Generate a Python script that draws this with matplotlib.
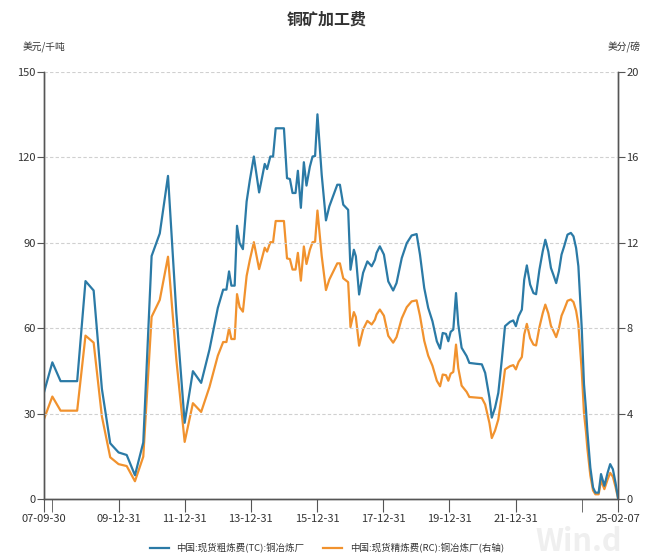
import matplotlib
matplotlib.use('Agg')
import matplotlib.pyplot as plt
import numpy as np
import pandas as pd

plt.rcParams['font.family'] = ['Noto Sans CJK SC', 'DejaVu Sans']

# 数据
dates = ['2007-09-30', '2007-12-31', '2008-03-31', '2008-09-30', '2008-12-31', '2009-03-31',
         '2009-06-30', '2009-09-30', '2009-12-31', '2010-03-31', '2010-06-30', '2010-09-30',
         '2010-12-31', '2011-03-31', '2011-06-30', '2011-09-30', '2011-12-31', '2012-03-31',
         '2012-06-30', '2012-09-30', '2012-12-31', '2013-02-28', '2013-04-05', '2013-05-04',
         '2013-05-30', '2013-07-05', '2013-07-31', '2013-08-29', '2013-10-04', '2013-11-14',
         '2013-12-20', '2014-02-02', '2014-04-01', '2014-06-02', '2014-06-28', '2014-08-03',
         '2014-09-02', '2014-10-01', '2014-12-31', '2015-02-03', '2015-03-07', '2015-04-05',
         '2015-05-08', '2015-06-03', '2015-07-06', '2015-08-08', '2015-09-06', '2015-10-13',
         '2015-11-12', '2015-12-10', '2016-01-05', '2016-02-21', '2016-04-08', '2016-05-15',
         '2016-06-28', '2016-08-11', '2016-09-09', '2016-10-16', '2016-12-09', '2017-01-04',
         '2017-02-10', '2017-03-04', '2017-04-09', '2017-05-23', '2017-07-09', '2017-08-26',
         '2017-10-01', '2017-10-19', '2017-11-24', '2018-01-08', '2018-02-25', '2018-04-20',
         '2018-05-27', '2018-07-24', '2018-09-17', '2018-11-10', '2019-01-04', '2019-02-10',
         '2019-03-29', '2019-05-12', '2019-06-28', '2019-08-15', '2019-09-20', '2019-10-19',
         '2019-11-24', '2019-12-20', '2020-01-15', '2020-02-13', '2020-03-14', '2020-04-08',
         '2020-05-15', '2020-07-09', '2020-08-08', '2020-10-23', '2020-12-24', '2021-01-30',
         '2021-03-18', '2021-04-13', '2021-05-19', '2021-06-24', '2021-07-31', '2021-09-06',
         '2021-10-31', '2021-12-06', '2022-01-04', '2022-02-03', '2022-03-11', '2022-04-06',
         '2022-05-05', '2022-06-10', '2022-07-17', '2022-08-15', '2022-09-21', '2022-10-27',
         '2022-11-25', '2022-12-28', '2023-01-26', '2023-02-21', '2023-03-25', '2023-04-24',
         '2023-05-23', '2023-06-21', '2023-07-28', '2023-09-03', '2023-10-02', '2023-10-31',
         '2023-11-25', '2024-01-01', '2024-01-26', '2024-02-17', '2024-03-03', '2024-04-05',
         '2024-05-05', '2024-05-31', '2024-07-06', '2024-08-01', '2024-09-07', '2024-10-13',
         '2024-11-10', '2024-12-10', '2025-01-08', '2025-02-07']

tc = [37.5, 48, 41.4, 41.4, 76.5, 73.2, 38.7, 19.6, 16.4, 15.5,
      8.4, 19.9, 85.3, 93.2, 113.4, 65.3, 26.8, 44.9, 40.8, 52.5,
      67.1, 73.5, 73.5, 79.9, 74.9, 74.9, 95.9, 89.8, 87.7, 104.4,
      112, 120.2, 107.6, 117.6, 115.8, 120.2, 120.2, 130.1, 130.1, 112.6,
      112.3, 107.4, 107.4, 115.2, 102.2, 118.2, 110, 116.6, 120.2, 120.4,
      135, 113.8, 97.8, 102.7, 106.5, 110.3, 110.3, 103.3, 101.5, 80.5,
      87.5, 85.2, 71.8, 79.4, 83.4, 81.7, 84, 86.4, 88.7, 85.8,
      76.4, 73.2, 75.8, 84.6, 89.8, 92.5, 93, 85.8, 74.1, 67.1,
      62.4, 55.4, 52.8, 58.3, 58, 55.4, 58.7, 59.5, 72.3, 61.3,
      53.1, 50.2, 47.8, 47.5, 47.3, 44.3, 35.6, 28.6, 32.1, 37.3,
      48.4, 60.7, 62.2, 62.7, 60.7, 64.2, 66.5, 77, 82, 75.3,
      72.3, 71.9, 80.5, 86.9, 91, 86.9, 81.1, 78.8, 75.8, 79.9,
      85.8, 88.7, 92.8, 93.4, 92.2, 88.1, 81.7, 60.1, 40.3, 31.5,
      23.9, 11.1, 4.1, 2.3, 2.3, 8.8, 4.7, 9.3, 12.3, 10.5, 5.8, 0]

rc = [3.75, 4.8, 4.14, 4.14, 7.65, 7.32, 3.87, 1.96, 1.64, 1.55,
      0.84, 1.99, 8.53, 9.32, 11.34, 6.53, 2.68, 4.49, 4.08, 5.25,
      6.71, 7.35, 7.35, 7.99, 7.49, 7.49, 9.59, 8.98, 8.77, 10.44,
      11.2, 12.02, 10.76, 11.76, 11.58, 12.02, 12.02, 13.01, 13.01, 11.26,
      11.23, 10.74, 10.74, 11.52, 10.22, 11.82, 11.0, 11.66, 12.02, 12.04,
      13.5, 11.38, 9.78, 10.27, 10.65, 11.03, 11.03, 10.33, 10.15, 8.05,
      8.75, 8.52, 7.18, 7.94, 8.34, 8.17, 8.4, 8.64, 8.87, 8.58,
      7.64, 7.32, 7.58, 8.46, 8.98, 9.25, 9.3, 8.58, 7.41, 6.71,
      6.24, 5.54, 5.28, 5.83, 5.8, 5.54, 5.87, 5.95, 7.23, 6.13,
      5.31, 5.02, 4.78, 4.75, 4.73, 4.43, 3.56, 2.86, 3.21, 3.73,
      4.84, 6.07, 6.22, 6.27, 6.07, 6.42, 6.65, 7.7, 8.2, 7.53,
      7.23, 7.19, 8.05, 8.69, 9.1, 8.69, 8.11, 7.88, 7.58, 7.99,
      8.58, 8.87, 9.28, 9.34, 9.22, 8.81, 8.17, 6.01, 4.03, 3.15,
      2.39, 1.11, 0.41, 0.23, 0.23, 0.88, 0.47, 0.93, 1.23, 1.05, 0.58, 0]

tick_dates = ['2007-09-30', '2009-12-31', '2011-12-31', '2013-12-31', '2015-12-31',
              '2017-12-31', '2019-12-31', '2021-12-31', '2025-02-07']
tick_labels = ['07-09-30', '09-12-31', '11-12-31', '13-12-31', '15-12-31',
               '17-12-31', '19-12-31', '21-12-31', '25-02-07']
minor_dates = ['2007-12-31', '2023-12-31']

x = pd.to_datetime(dates)
blue = '#2b7aa6'
orange = '#f1922e'
axcol = '#555555'
txtcol = '#333333'

fig = plt.figure(figsize=(6.54, 5.59), dpi=100)

# watermark behind everything
fig.text(0.885, 0.03, 'Win.d', ha='center', va='center', fontsize=22,
         fontweight='bold', color='#efefef', zorder=0)

ax1 = fig.add_axes([0.0673, 0.107, 0.878, 0.765])
ax2 = ax1.twinx()

l1, = ax1.plot(x, tc, color=blue, lw=1.6, label='中国:现货粗炼费(TC):铜冶炼厂')
l2, = ax2.plot(x, rc, color=orange, lw=1.6, label='中国:现货精炼费(RC):铜冶炼厂(右轴)')
ax1.set_zorder(ax2.get_zorder() + 1)
ax1.patch.set_visible(False)
ax2.patch.set_visible(False)

ax1.set_ylim(0, 150)
ax2.set_ylim(0, 20)
ax1.set_yticks([0, 30, 60, 90, 120, 150])
ax2.set_yticks([0, 4, 8, 12, 16, 20])
ax1.set_xlim(pd.Timestamp('2007-09-30'), pd.Timestamp('2025-02-07'))

ax1.set_xticks(pd.to_datetime(tick_dates))
ax1.set_xticklabels(tick_labels)
ax1.set_xticks(pd.to_datetime(minor_dates), minor=True)

ax1.grid(axis='y', color='#d0d0d0', ls=(0, (3, 2)), lw=0.8)

for a in (ax1, ax2):
    a.spines['top'].set_visible(False)
    for s in ('left', 'right', 'bottom'):
        a.spines[s].set_color(axcol)
        a.spines[s].set_linewidth(1.0)
    a.tick_params(axis='y', colors=axcol, labelcolor=txtcol, labelsize=8, length=5, pad=1)

ax1.tick_params(axis='x', which='both', colors=axcol, labelcolor=txtcol, labelsize=8,
                length=9, pad=2)

fig.text(0.5, 0.965, '铜矿加工费', ha='center', va='center', fontsize=11.5,
         fontweight='bold', color='#333333')
fig.text(0.034, 0.915, '美元/千吨', ha='left', va='center', fontsize=7, color=txtcol)
fig.text(0.98, 0.915, '美分/磅', ha='right', va='center', fontsize=7, color=txtcol)

fig.legend(handles=[l1, l2], loc='center', bbox_to_anchor=(0.5, 0.02), ncol=2,
           frameon=False, fontsize=6.8, handlelength=2.0, columnspacing=2.0,
           labelcolor=txtcol)

fig.savefig('out.png', dpi=100)
